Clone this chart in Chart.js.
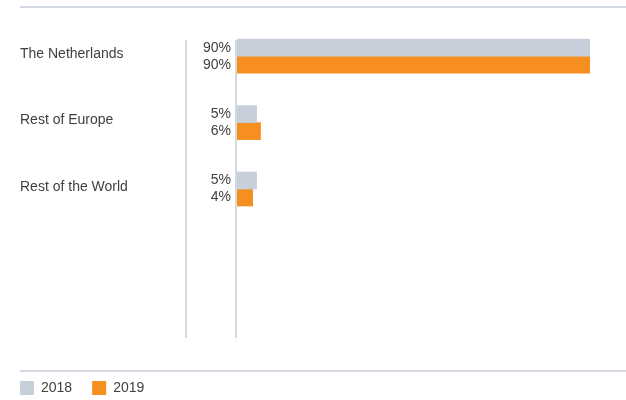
<!DOCTYPE html>
<html>
<head>
<meta charset="utf-8">
<script src="https://cdn.jsdelivr.net/npm/chart.js@4/dist/chart.umd.min.js"></script>
<style>
  body { margin: 0; background: #fff; }
  #wrap { position: relative; width: 626px; height: 400px; }
  .rule { position: absolute; left: 20px; right: 0; height: 2px; background: #d3d9e2; }
  canvas { position: absolute; left: 0; top: 0; }
</style>
</head>
<body>
<div id="wrap">
  <div class="rule" style="top:6px"></div>
  <div class="rule" style="top:370px"></div>
  <canvas id="grafico" width="626" height="400"></canvas>
</div>
<script>
// dados
const categorias = ['The Netherlands', 'Rest of Europe', 'Rest of the World'];
const anos = ['2018', '2019'];
const valores2018 = [90, 5, 5];
const valores2019 = [90, 6, 4];
const cores = ['#c7cfda', '#f68f1f'];
const linhasVazias = 2; // espaço vazio abaixo das barras, como no original

const corLinha = '#d3d9e2';
const corTexto = '#404040';

Chart.defaults.font.family = "'Liberation Sans', Arial, sans-serif";
Chart.defaults.font.size = 14;
Chart.defaults.color = corTexto;

// rótulos de valor + linhas verticais
const pluginExtras = {
    id: 'extras',
    beforeDatasetsDraw(chart) {
        const { ctx, chartArea, scales } = chart;
        const x0 = scales.x.getPixelForValue(0) - 1;
        const topo = chartArea.top + 17, base = chartArea.bottom - 17;
        ctx.save();
        ctx.strokeStyle = corLinha;
        ctx.lineWidth = 2;
        [x0, x0 - 50].forEach(x => {
            ctx.beginPath();
            ctx.moveTo(x, topo);
            ctx.lineTo(x, base);
            ctx.stroke();
        });
        ctx.restore();
    },
    afterDatasetsDraw(chart) {
        const { ctx } = chart;
        ctx.save();
        ctx.font = "14px 'Liberation Sans', Arial, sans-serif";
        ctx.fillStyle = corTexto;
        ctx.textAlign = 'right';
        ctx.textBaseline = 'middle';
        chart.data.datasets.forEach((ds, i) => {
            chart.getDatasetMeta(i).data.forEach((bar, j) => {
                const v = ds.data[j];
                if (v == null) return;
                ctx.fillText(v + '%', bar.base - 6, bar.y);
            });
        });
        ctx.restore();
    }
};

const labels = categorias.concat(Array(linhasVazias).fill(''));

new Chart(document.getElementById('grafico'), {
    type: 'bar',
    data: {
        labels: labels,
        datasets: [
            { label: anos[0], data: valores2018, backgroundColor: cores[0], borderWidth: 0, barThickness: 17 },
            { label: anos[1], data: valores2019, backgroundColor: cores[1], borderWidth: 0, barThickness: 17 }
        ]
    },
    options: {
        indexAxis: 'y',
        responsive: false,
        animation: false,
        layout: { padding: { top: 23, right: 36, bottom: 5, left: 0 } },
        scales: {
            x: {
                min: 0, max: 90,
                grid: { display: false },
                border: { display: false },
                ticks: { display: false },
                afterFit: s => { s.height = 6; }
            },
            y: {
                grid: { display: false },
                border: { display: false },
                ticks: { crossAlign: 'far', padding: 0, labelOffset: -2 },
                afterFit: s => { s.width = 217; }
            },
            margem: {
                type: 'linear', axis: 'y', position: 'left', weight: 5,
                grid: { display: false },
                border: { display: false },
                ticks: { display: false },
                afterFit: s => { s.width = 20; }
            }
        },
        plugins: {
            tooltip: { enabled: false },
            legend: {
                position: 'bottom',
                align: 'start',
                maxHeight: 34,
                labels: { boxWidth: 14, boxHeight: 14, padding: 20, color: corTexto }
            }
        }
    },
    plugins: [pluginExtras]
});
</script>
</body>
</html>
